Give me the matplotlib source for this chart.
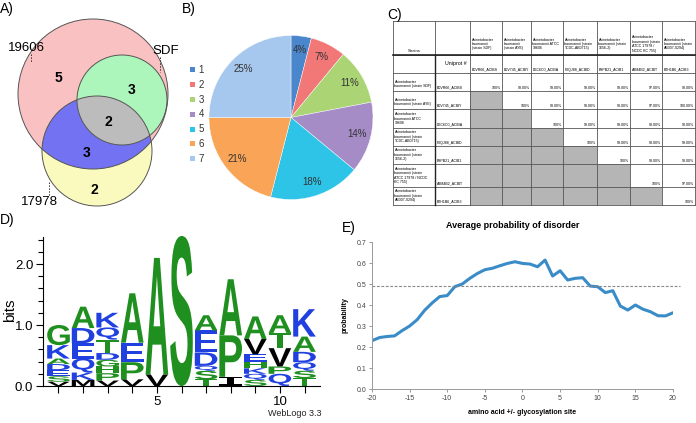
import numpy as np
import matplotlib
matplotlib.use('Agg')
import matplotlib.pyplot as plt
from matplotlib.patches import Circle, Rectangle, PathPatch
from matplotlib.textpath import TextPath
from matplotlib.font_manager import FontProperties
from matplotlib.transforms import Affine2D

plt.rcParams['font.family'] = ['Liberation Sans', 'DejaVu Sans']
plt.rcParams['axes.unicode_minus'] = False

W, H = 696, 423

# ---------------- data ----------------
# A) Venn diagram
venn_names = ['19606', 'SDF', '17978']
venn_counts = [5, 3, 2, 3, 2]   # 19606 only, 19606+SDF, all three, 19606+17978, 17978 only

# B) pie chart
pie_labels = ['1', '2', '3', '4', '5', '6', '7']
pie_values = [4, 7, 11, 14, 18, 21, 25]
pie_colors = ['#4a86cc', '#f27878', '#abd475', '#a58cc6', '#2ec4e8', '#f9a457', '#a6c7ee']

# C) identity table
col_strains = ['Acinetobacter\nbaumannii\n(strain SDF)', 'Acinetobacter\nbaumannii\n(strain AYE)',
               'Acinetobacter\nbaumannii ATCC\n19606', 'Acinetobacter\nbaumannii (strain\nTCDC-AB0715)',
               'Acinetobacter\nbaumannii (strain\n1656-2)',
               'Acinetobacter\nbaumannii (strain\nATCC 17978 /\nNCDC KC 755)',
               'Acinetobacter\nbaumannii (strain\nAB307-0294)']
row_strains = ['Acinetobacter\nbaumannii (strain SDF)', 'Acinetobacter\nbaumannii (strain AYE)',
               'Acinetobacter\nbaumannii ATCC\n19606', 'Acinetobacter\nbaumannii (strain\nTCDC-AB0715)',
               'Acinetobacter\nbaumannii (strain\n1656-2)',
               'Acinetobacter\nbaumannii (strain\nATCC 17978 / NCDC\nKC 755)',
               'Acinetobacter\nbaumannii (strain\nAB307-0294)']
uniprot_ids = ['B0VR66_ACIBS', 'B0V745_ACIBY', 'D0C6C0_ACIBA', 'F0QJ88_ACIBD',
               'E8PB21_ACIB1', 'A3M4B2_ACIBT', 'B7H1B6_ACIB3']
identity = [[100, 98, 99, 99, 99, 97, 98],
            [None, 100, 98, 99, 98, 97, 100],
            [None, None, 100, 99, 99, 98, 98],
            [None, None, None, 100, 99, 98, 99],
            [None, None, None, None, 100, 98, 98],
            [None, None, None, None, None, 100, 97],
            [None, None, None, None, None, None, 100]]

# D) sequence logo (letters bottom -> top)
logo_letters = ['VSEDAKG', 'MKQEDA', 'VPHGDTQK', 'VPEA', 'VA', 'S',
                'TSQDEA', 'IPA', 'SQKHEVA', 'QPVTA', 'TSQDAK']
logo_heights = [[0.07, 0.09, 0.10, 0.10, 0.09, 0.22, 0.33],
                [0.10, 0.12, 0.23, 0.25, 0.25, 0.35],
                [0.09, 0.12, 0.11, 0.11, 0.11, 0.22, 0.20, 0.24],
                [0.11, 0.28, 0.32, 0.81],
                [0.19, 1.91],
                [2.46],
                [0.11, 0.14, 0.08, 0.22, 0.36, 0.25],
                [0.15, 0.68, 0.92],
                [0.10, 0.10, 0.09, 0.11, 0.12, 0.25, 0.37],
                [0.20, 0.12, 0.30, 0.25, 0.29],
                [0.13, 0.12, 0.14, 0.17, 0.25, 0.45]]

# E) disorder probability
offsets = list(range(-20, 21))
disorder = [0.230, 0.245, 0.250, 0.253, 0.278, 0.300, 0.330, 0.375, 0.410, 0.440, 0.445,
            0.487, 0.500, 0.527, 0.550, 0.568, 0.575, 0.587, 0.598, 0.606, 0.598,
            0.595, 0.582, 0.614, 0.538, 0.563, 0.519, 0.527, 0.530, 0.490, 0.487,
            0.459, 0.468, 0.395, 0.376, 0.400, 0.380, 0.368, 0.349, 0.348, 0.363]
disorder_cutoff = 0.49


def rect(l, t, r, b):
    return [l / W, 1 - b / H, (r - l) / W, (b - t) / H]


fig = plt.figure(figsize=(W / 100, H / 100), dpi=100)

# overlay axes in pixel units
ax0 = fig.add_axes([0, 0, 1, 1])
ax0.set_xlim(0, W)
ax0.set_ylim(H, 0)
ax0.axis('off')

for lab, (x, y) in zip(['A)', 'B)', 'C)', 'D)', 'E)'],
                       [(0, 9), (182, 9), (387, 15), (0, 220), (342, 228)]):
    ax0.text(x, y, lab, fontsize=10, ha='left', va='center')

########################## A) Venn ##########################
pink_c, green_c, yel_c = ((93, 94), 75), ((122, 100), 45), ((97, 151), 55)
ax0.add_patch(Circle(*pink_c, fc='#f9c1c1', ec='none'))
ax0.add_patch(Circle(*yel_c, fc='#fafabf', ec='none'))
blue = Circle(*yel_c, fc='#7272f2', ec='none')
ax0.add_patch(blue)
blue.set_clip_path(Circle(*pink_c, transform=ax0.transData))
ax0.add_patch(Circle(*green_c, fc='#acf6bc', ec='none'))
gray = Circle(*green_c, fc='#bcbcbc', ec='none')
ax0.add_patch(gray)
gray.set_clip_path(Circle(*yel_c, transform=ax0.transData))
for c in (pink_c, green_c, yel_c):
    ax0.add_patch(Circle(*c, fc='none', ec='#555555', lw=0.7))

for n, (x, y) in zip(venn_counts, [(58, 78), (132, 90), (108, 122), (87, 153), (94, 190)]):
    ax0.text(x, y, str(n), fontsize=10, fontweight='bold', ha='center', va='center')
for name, (x, y), (lx, ly0, ly1) in zip(venn_names,
                                        [(26, 48), (166, 51), (39, 202)],
                                        [(31, 54, 62), (160, 57, 72), (49, 182, 196)]):
    ax0.text(x, y, name, fontsize=9.5, ha='center', va='center')
    ax0.plot([lx, lx], [ly0, ly1], ls=(0, (1.5, 1.5)), color='#333333', lw=0.7)

########################## B) Pie ##########################
axp = fig.add_axes(rect(209, 35.5, 373, 199.5))
wedges, _, autotexts = axp.pie(pie_values, colors=pie_colors, startangle=90, counterclock=False,
                               autopct='%d%%', pctdistance=0.83,
                               wedgeprops=dict(edgecolor='white', linewidth=0.3),
                               textprops=dict(fontsize=7, color='#333333'))
axp.set_xlim(-1, 1)
axp.set_ylim(-1, 1)
for i, (lab, col) in enumerate(zip(pie_labels, pie_colors)):
    y = 70 + i * 14.8
    ax0.add_patch(Rectangle((190, y - 2.5), 5, 5, fc=col, ec='none'))
    ax0.text(198.5, y, lab, fontsize=7, color='#333333', va='center', ha='left')

########################## C) Table ##########################
col_x = [393, 435, 470, 502, 531, 563, 597, 630, 662, 695]
row_y = [21, 55, 73, 91, 109, 128, 146, 164, 187, 205]
tfs = 2.6
for i, row in enumerate(identity):
    for j, v in enumerate(row):
        if v is None:
            ax0.add_patch(Rectangle((col_x[j + 2], row_y[i + 2]), col_x[j + 3] - col_x[j + 2],
                                    row_y[i + 3] - row_y[i + 2], fc='#b5b5b5', ec='none'))
        else:
            txt = '100%' if i == j else '%.2f%%' % v
            ax0.text(col_x[j + 3] - 1, row_y[i + 3] - 1.2, txt, fontsize=tfs, ha='right', va='bottom')
for x in col_x:
    ax0.plot([x, x], [row_y[0], row_y[-1]], color='#555555', lw=0.6)
for y in row_y:
    ax0.plot([col_x[0], col_x[-1]], [y, y], color='#555555', lw=0.6)
ax0.plot([col_x[0], col_x[-1]], [row_y[1], row_y[1]], color='#222222', lw=1.2)
ax0.plot([col_x[1], col_x[1]], [row_y[1], row_y[-1]], color='#222222', lw=1.0)
ax0.text((col_x[0] + col_x[1]) / 2, 53, 'Strains', fontsize=tfs + 0.4, ha='center', va='bottom')
ax0.text(col_x[2] - 3, 63, 'Uniprot #', fontsize=tfs + 1.2, ha='right', va='center')
for j, s in enumerate(col_strains):
    ax0.text(col_x[j + 2] + 1.5, 44, s, fontsize=tfs, ha='left', va='center', linespacing=1.15)
    ax0.text(col_x[j + 2] + 1.5, row_y[2] - 1.5, uniprot_ids[j], fontsize=tfs, ha='left', va='bottom')
for i, s in enumerate(row_strains):
    ax0.text(col_x[0] + 1.5, row_y[i + 3] - 3, s, fontsize=tfs, ha='left', va='bottom', linespacing=1.15)
    ax0.text(col_x[1] + 1.5, row_y[i + 3] - 1.2, uniprot_ids[i], fontsize=tfs, ha='left', va='bottom')

########################## D) Logo ##########################
axd = fig.add_axes(rect(43, 233.5, 320, 386))
green_set, blue_set = set('AGSTPHCY'), set('DEKQRN')
fp = FontProperties(family='Liberation Sans', weight='bold')
fp_i = FontProperties(family='DejaVu Sans Mono', weight='bold')
for pos, (letters, heights) in enumerate(zip(logo_letters, logo_heights), start=1):
    y0 = 0
    for ch, h in zip(letters, heights):
        tp = TextPath((0, 0), ch, size=1, prop=fp_i if ch == 'I' else fp)
        bb = tp.get_extents()
        w = 0.92
        tr = Affine2D().translate(-bb.x0, -bb.y0).scale(w / bb.width, h / bb.height).translate(pos - w / 2, y0)
        col = '#1f8f1f' if ch in green_set else ('#2040e0' if ch in blue_set else 'black')
        axd.add_patch(PathPatch(tr.transform_path(tp), fc=col, ec='none', lw=0))
        y0 += h
axd.set_xlim(0.37, 11.63)
axd.set_ylim(0, 2.5)
axd.spines['top'].set_visible(False)
axd.spines['right'].set_visible(False)
axd.spines['left'].set_bounds(0, 2.45)
axd.set_yticks([0, 1, 2])
axd.set_yticklabels(['0.0', '1.0', '2.0'])
axd.set_yticks(np.arange(0, 2.45, 0.2), minor=True)
axd.set_xticks(range(1, 12))
axd.set_xticklabels(['' if p % 5 else str(p) for p in range(1, 12)])
axd.tick_params(axis='both', labelsize=9.5, length=5, width=0.8, pad=2)
axd.tick_params(axis='y', which='minor', length=3.5, width=0.8)
ax0.text(10, 310, 'bits', fontsize=11, rotation=90, ha='center', va='center')
ax0.text(322, 414, 'WebLogo 3.3', fontsize=6.5, ha='right', va='center', color='#222222')

########################## E) Disorder ##########################
axe = fig.add_axes(rect(372, 242, 673, 389))
axe.plot(offsets, disorder, color='#3a8cc8', lw=2.2, solid_capstyle='round')
axe.plot([-20, 20.9], [disorder_cutoff, disorder_cutoff], ls=(0, (2.5, 1.5)), color='#888888',
         lw=0.8, clip_on=False)
axe.set_xlim(-20, 20)
axe.set_ylim(0, 0.7)
axe.set_xticks(range(-20, 21, 5))
axe.set_yticks(np.arange(0, 0.71, 0.1))
axe.set_yticklabels(['%.1f' % v for v in np.arange(0, 0.71, 0.1)])
axe.tick_params(labelsize=5, length=2, width=0.6, color='#888888', labelcolor='#444444', pad=2)
for s in ('top', 'right'):
    axe.spines[s].set_visible(False)
for s in ('left', 'bottom'):
    axe.spines[s].set_color('#999999')
    axe.spines[s].set_linewidth(0.7)
axe.set_ylabel('probability', fontsize=5, fontweight='bold', labelpad=6)
axe.set_xlabel('amino acid +/- glycosylation site', fontsize=5, fontweight='bold', labelpad=5)
ax0.text(513, 226, 'Average probability of disorder', fontsize=6.5, fontweight='bold',
         ha='center', va='center')

fig.savefig('out.png', dpi=100)
